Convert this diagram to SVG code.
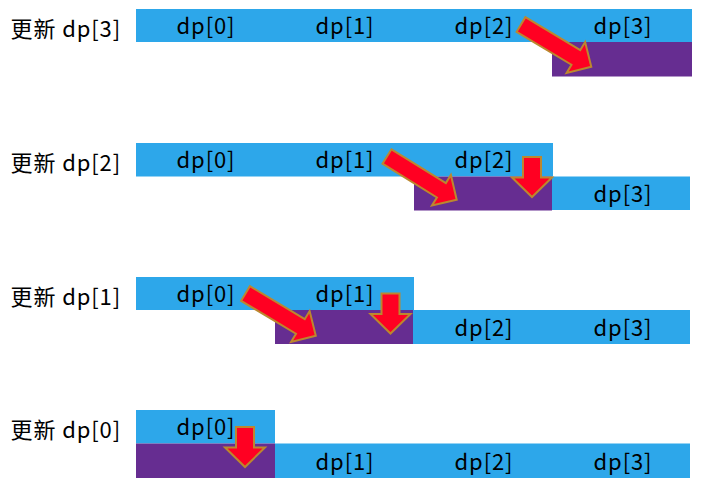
<svg xmlns="http://www.w3.org/2000/svg" width="706" height="492" viewBox="0 0 706 492">
<style>
.b{fill:#2DA7EA}
.p{fill:#662D91}
.t{font-family:"Noto Sans CJK SC","Noto Sans",sans-serif;font-size:22px;letter-spacing:0.9px;fill:#000}
.c{text-anchor:middle}
.a{fill:#FF0022;stroke:#BC872E;stroke-width:2;stroke-linejoin:miter}
</style>
<defs>
<path id="diag" d="M0,-8.5 L64,-8.5 L64,-18 L82,0 L64,18 L64,8.5 L0,8.5 Z"/>
<path id="down" d="M-9,0 L9,0 L9,20.5 L20,20.5 L0,40 L-20,20.5 L-9,20.5 Z"/>
</defs>
<g id="row1">
<text class="t" x="10.5" y="36.5">更新 dp[3]</text>
<rect class="b" x="136" y="9" width="556" height="33"/>
<rect class="p" x="552" y="42" width="140" height="34.5"/>
<text class="t c" x="206" y="34">dp[0]</text>
<text class="t c" x="345" y="34">dp[1]</text>
<text class="t c" x="484" y="34">dp[2]</text>
<text class="t c" x="623" y="34">dp[3]</text>
</g>
<g id="row2">
<text class="t" x="10.5" y="170.5">更新 dp[2]</text>
<rect class="b" x="136" y="143" width="417" height="33.5"/>
<rect class="b" x="552" y="176.5" width="138" height="33.5"/>
<rect class="p" x="414" y="176.5" width="138" height="34"/>
<text class="t c" x="206" y="168">dp[0]</text>
<text class="t c" x="345" y="168">dp[1]</text>
<text class="t c" x="484" y="168">dp[2]</text>
<text class="t c" x="623" y="201.5">dp[3]</text>
</g>
<g id="row3">
<text class="t" x="10.5" y="304.5">更新 dp[1]</text>
<rect class="b" x="136" y="277" width="278" height="33"/>
<rect class="b" x="413" y="310" width="277" height="34"/>
<rect class="p" x="275" y="310" width="138" height="34"/>
<text class="t c" x="206" y="301.5">dp[0]</text>
<text class="t c" x="345" y="301.5">dp[1]</text>
<text class="t c" x="484" y="335.5">dp[2]</text>
<text class="t c" x="623" y="335.5">dp[3]</text>
</g>
<g id="row4">
<text class="t" x="10.5" y="437.5">更新 dp[0]</text>
<rect class="b" x="136" y="410" width="139" height="33.5"/>
<rect class="b" x="275" y="443.5" width="415" height="34.5"/>
<rect class="p" x="136" y="443.5" width="139" height="34.5"/>
<text class="t c" x="206" y="435">dp[0]</text>
<text class="t c" x="345" y="469.5">dp[1]</text>
<text class="t c" x="484" y="469.5">dp[2]</text>
<text class="t c" x="623" y="469.5">dp[3]</text>
</g>
<g id="connectors">
<use href="#diag" class="a" transform="translate(521,24.5) rotate(31)"/>
<use href="#diag" class="a" transform="translate(387,156.5) rotate(31.8)"/>
<use href="#down" class="a" transform="translate(532,157)"/>
<use href="#diag" class="a" transform="translate(245.5,293.5) rotate(31)"/>
<use href="#down" class="a" transform="translate(390.5,293.5)"/>
<use href="#down" class="a" transform="translate(245,427)"/>
</g>
</svg>
